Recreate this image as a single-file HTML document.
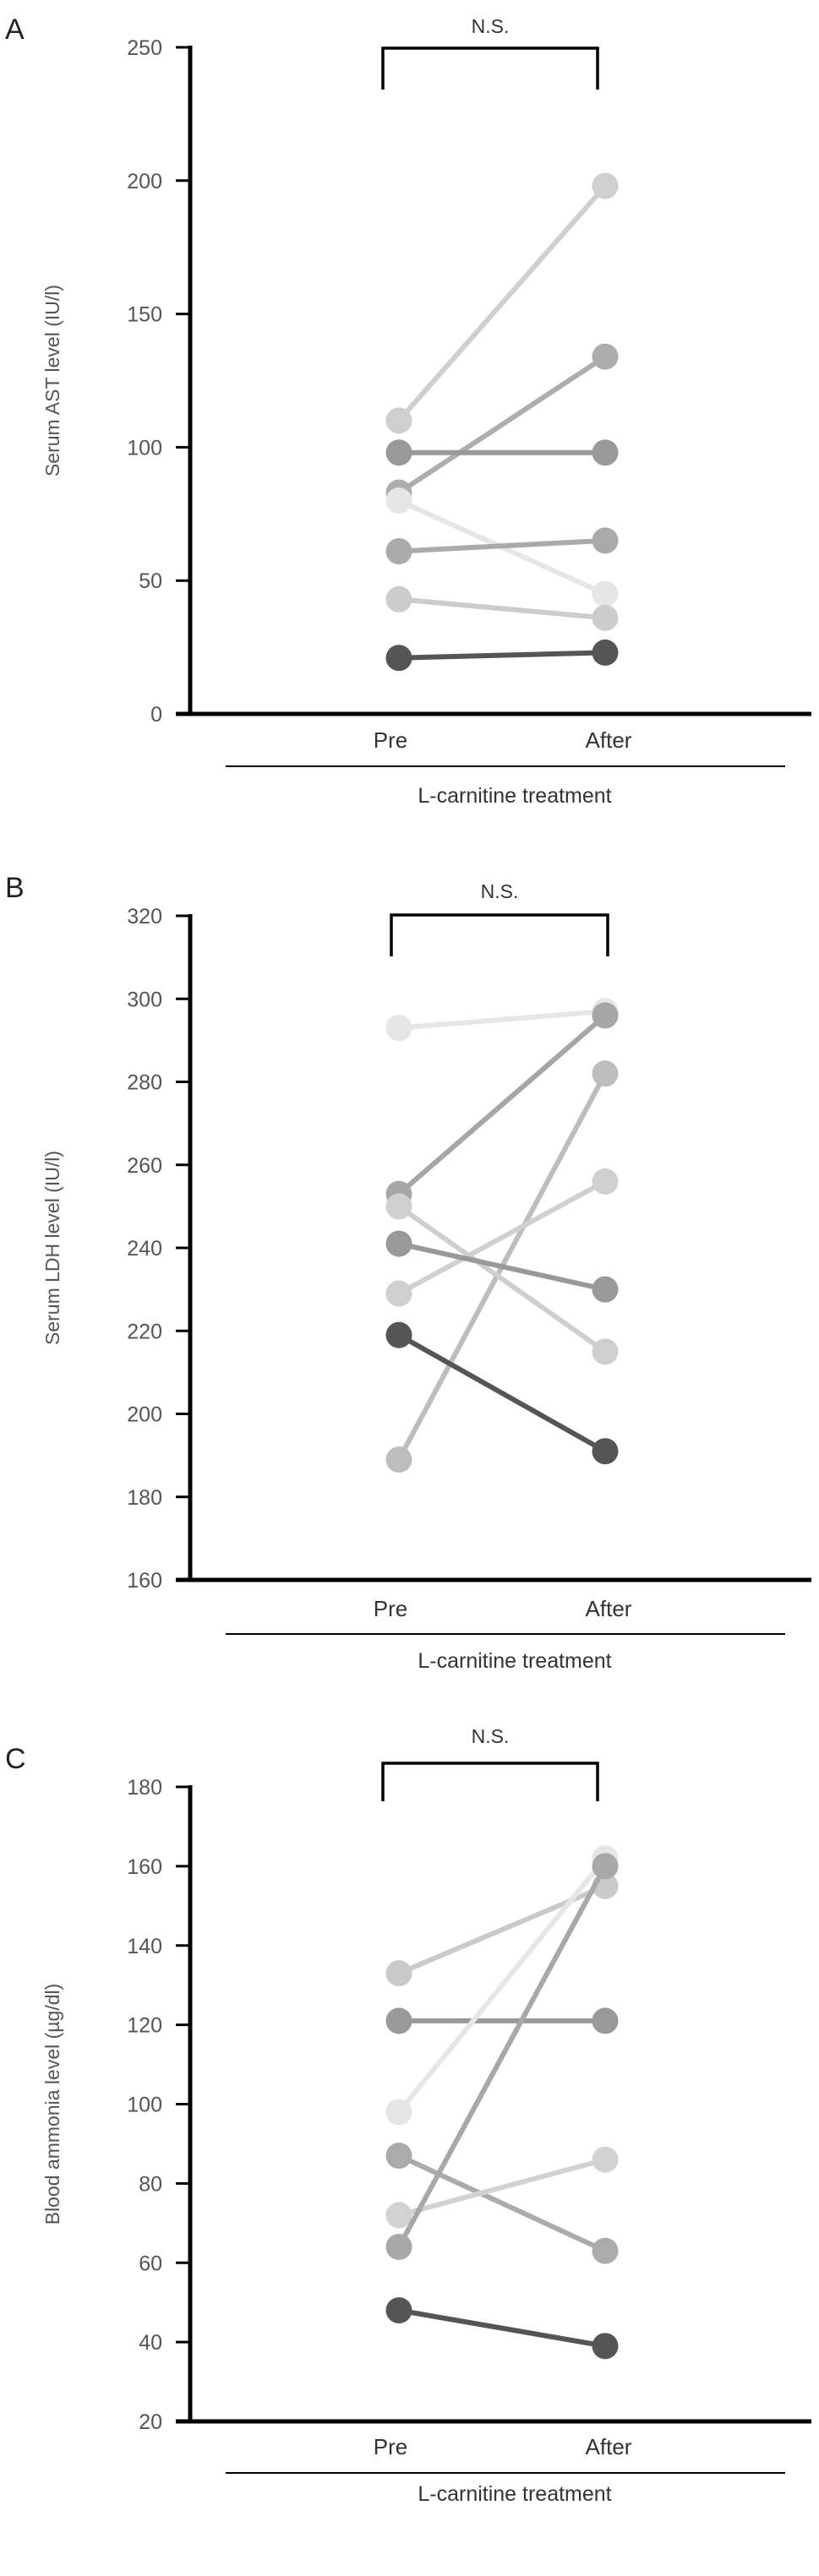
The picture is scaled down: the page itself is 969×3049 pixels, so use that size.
<!DOCTYPE html>
<html><head><meta charset="utf-8">
<style>
html,body{margin:0;padding:0;background:#fff;}
svg{display:block;}
text{font-family:"Liberation Sans",sans-serif;}
</style></head>
<body>
<svg id="chart" width="969" height="3049" viewBox="0 0 969 3049" xmlns="http://www.w3.org/2000/svg"></svg>
<script>
// Panel A data
const aTicks = [0, 50, 100, 150, 200, 250];
const aPre = [110, 83, 98, 80, 61, 43, 21];
const aAfter = [198, 134, 98, 45, 65, 36, 23];
// Panel B data
const bTicks = [160, 180, 200, 220, 240, 260, 280, 300, 320];
const bPre = [293, 253, 189, 250, 229, 241, 219];
const bAfter = [297, 296, 282, 215, 256, 230, 191];
// Panel C data
const cTicks = [20, 40, 60, 80, 100, 120, 140, 160, 180];
const cPre = [133, 121, 98, 87, 72, 64, 48];
const cAfter = [155, 121, 162, 63, 86, 160, 39];
const categories = ["Pre", "After"];

const aColors = ["#cfcfcf","#adadad","#999","#e6e6e6","#aaa","#cccccc","#555"];
const bColors = ["#e6e6e6","#a6a6a6","#bdbdbd","#cfcfcf","#d0d0d0","#999","#555"];
const cColors = ["#cacaca","#999","#e6e6e6","#ababab","#d2d2d2","#a8a8a8","#555"];

const NS = "http://www.w3.org/2000/svg";
const svg = document.getElementById("chart");
function mk(tag, attrs, parent){
  const e = document.createElementNS(NS, tag);
  for (const k in attrs) e.setAttribute(k, attrs[k]);
  (parent||svg).appendChild(e);
  return e;
}

function panel(o){
  const g = mk("g", {});
  
  
  const min = o.ticks[0], max = o.ticks[o.ticks.length-1];
  const y = v => o.y0 - (o.y0 - o.y1) * (v - min) / (max - min);
  const xPre = 472, xAfter = 716;
  const xs = [xPre, xAfter];

  const L = mk("text", {x:6, y:o.letterY, "font-size":34, fill:"#222"}, g);
  L.textContent = o.letter;
  
  

  const ya = mk("line", {x1:225, y1:o.y1-2, x2:225, y2:o.y0+2.5, stroke:"#000", "stroke-width":5}, g);
  
  
  const xa = mk("line", {x1:208, y1:o.y0, x2:960, y2:o.y0, stroke:"#000", "stroke-width":5}, g);
  
  
  o.ticks.forEach(t => {
    const tk = mk("line", {x1:208, y1:y(t), x2:225, y2:y(t), stroke:"#000", "stroke-width":3}, g);
    
    
    const tl = mk("text", {x:192, y:y(t)+9, "font-size":25, fill:"#555", "text-anchor":"end"}, g);
    tl.textContent = t;
    
    
  });
  const yt = mk("text", {x:0, y:0, "font-size":23, fill:"#555", "text-anchor":"middle",
    transform:"translate(70," + ((o.y0+o.y1)/2) + ") rotate(-90)"}, g);
  yt.textContent = o.title;
  
  

  const br = mk("path", {d:"M"+o.bx0+","+o.bBot+" V"+o.bTop+" H"+o.bx1+" V"+o.bBot, fill:"none", stroke:"#000", "stroke-width":3.5}, g);
  
  
  const ns = mk("text", {x:(o.bx0+o.bx1)/2, y:o.nsY+8, "font-size":23, fill:"#333", "text-anchor":"middle"}, g);
  ns.textContent = "N.S.";
  
  

  o.pre.forEach((p, i) => {
    const vals = [p, o.after[i]];
    const ln = mk("line", {x1:xs[0], y1:y(vals[0]), x2:xs[1], y2:y(vals[1]), stroke:o.colors[i], "stroke-width":6}, g);
    
    
    vals.forEach((v, j) => {
      const c = mk("circle", {cx:xs[j], cy:y(v), r:15.5, fill:o.colors[i]}, g);
      
      
    });
  });

  categories.forEach((c, j) => {
    const t = mk("text", {x:xs[j]-10+(j?14:0), y:o.catY+9, "font-size":26, fill:"#333", "text-anchor":"middle"}, g);
    t.textContent = c;
    
    
  });
  const ul = mk("line", {x1:267, y1:o.ulY, x2:929, y2:o.ulY, stroke:"#000", "stroke-width":2}, g);
  
  
  const xt = mk("text", {x:609, y:o.xtY+9, "font-size":25, fill:"#333", "text-anchor":"middle"}, g);
  xt.textContent = "L-carnitine treatment";
  
  
}

panel({letter:"A", letterY:46, ticks:aTicks, pre:aPre, after:aAfter, colors:aColors,
  y0:845, y1:56, title:"Serum AST level (IU/l)", bx0:453, bx1:707, bTop:57, bBot:106, nsY:31,
  catY:876, ulY:907, xtY:941});
panel({letter:"B", letterY:1062, ticks:bTicks, pre:bPre, after:bAfter, colors:bColors,
  y0:1870, y1:1084, title:"Serum LDH level (IU/l)", bx0:463, bx1:719, bTop:1083, bBot:1132, nsY:1055,
  catY:1904, ulY:1934, xtY:1965});
panel({letter:"C", letterY:2093, ticks:cTicks, pre:cPre, after:cAfter, colors:cColors,
  y0:2866, y1:2115, title:"Blood ammonia level (µg/dl)", bx0:453, bx1:707, bTop:2087, bBot:2132, nsY:2055,
  catY:2896, ulY:2927, xtY:2951});
</script>
</body></html>
